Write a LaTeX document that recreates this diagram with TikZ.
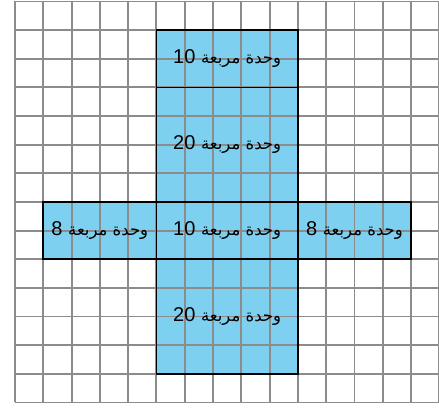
\documentclass[tikz,border=0pt]{standalone}
\usepackage{fontspec}
\newfontfamily\arabicfont[Script=Arabic]{DejaVu Sans}
\newfontfamily\digitfont{Liberation Sans}
\TeXXeTstate=1
\definecolor{netblue}{RGB}{125,208,240}
\definecolor{gridgray}{RGB}{140,140,140}
\begin{document}
\begin{tikzpicture}[x={(28.29pt,0)},y={(0,-28.64pt)},
  edge/.style={draw=black,line width=1.8pt},
  gridline/.style={draw=gridgray,line width=1.9pt},
  lab/.style={inner sep=0pt,font=\digitfont\fontsize{20}{22}\selectfont}]
\useasboundingbox (-0.530,-0.052) rectangle (14.988,14.159);
% faces
\fill[netblue] (5,1) rectangle (10,13);
\fill[netblue] (1,7) rectangle (14,9);
% grid
\foreach \i in {0,...,15} \draw[gridline] (\i,0) -- (\i,14);
\foreach \j in {0,...,14} \draw[gridline] (0,\j) -- (15,\j);
% outlines
\draw[edge] (5,1) rectangle (10,3);
\draw[edge] (5,3) rectangle (10,7);
\draw[edge] (5,7) rectangle (10,9);
\draw[edge] (1,7) rectangle (5,9);
\draw[edge] (10,7) rectangle (14,9);
\draw[edge] (5,9) rectangle (10,13);
% labels
\newcommand{\arlab}[1]{#1 {\arabicfont\fontsize{16.5}{18}\selectfont\beginR وحدة مربعة\endR}}
\node[lab] (t1) at (7.5,2) {\arlab{10}};
\node[lab] (t2) at (7.5,5) {\arlab{20}};
\node[lab] (t3) at (7.5,8) {\arlab{10}};
\node[lab] (t4) at (3,8) {\arlab{8}};
\node[lab] (t5) at (12,8) {\arlab{8}};
\node[lab] (t6) at (7.5,11) {\arlab{20}};
\end{tikzpicture}
\end{document}
